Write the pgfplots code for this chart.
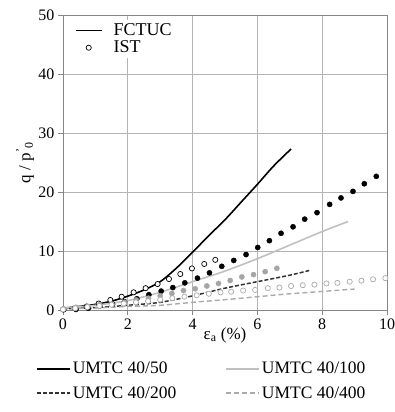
\documentclass[border=0pt]{standalone}
\usepackage{pgfplots}
\pgfplotsset{compat=1.18}
\usepackage{fontspec}
\setmainfont{Liberation Serif}
\definecolor{gridc}{RGB}{180,180,180}
\definecolor{axisc}{RGB}{134,134,134}
\definecolor{lightc}{RGB}{192,192,192}
\definecolor{darkc}{RGB}{50,50,50}
\definecolor{grayc}{RGB}{170,170,170}
\definecolor{dotc}{RGB}{165,165,165}
\begin{document}
\begin{tikzpicture}
\useasboundingbox (-63bp,-102bp) rectangle (332bp,310bp);
\begin{axis}[
  at={(0,0)}, anchor=south west, scale only axis,
  width=324bp, height=295bp,
  xmin=0, xmax=10, ymin=0, ymax=50,
  xtick={0,2,...,10}, ytick={0,10,...,50},
  grid=major, major grid style={gridc, line width=0.9bp},
  axis line style={axisc, line width=0.9bp},
  tick style={axisc, line width=0.9bp},
  tick align=outside, major tick length=5bp,
  xtick pos=left, ytick pos=left,
  ticklabel style={font=\fontsize{16bp}{19bp}\selectfont},
  /pgf/number format/assume math mode=true,
  xlabel={ε\textsubscript{a} (\%)},
  ylabel={q / p\textsuperscript{'}\textsubscript{0}},
  label style={font=\fontsize{17bp}{20bp}\selectfont},
  xlabel style={at={(axis description cs:0.5,-0.085)}, anchor=center},
  ylabel style={at={(axis description cs:-0.117,0.5)}, anchor=center},
  legend columns=2,
  legend style={at={(axis description cs:-0.0926,-0.163)}, anchor=north west,
    draw=none, fill=none, font=\fontsize{17.5bp}{20bp}\selectfont,
    cells={anchor=west}, row sep=7bp,
    /tikz/every even column/.append style={column sep=47bp}},
  legend image code/.code={\draw[#1] (0bp,0bp) -- (33bp,0bp);},
]
% IST markers
\addplot[only marks, mark=*, mark size=2.6bp, color=black, forget plot] coordinates {
(0.02,0.05)(0.40,0.1)(0.78,0.3)(1.13,0.7)(1.53,1.0)(1.90,1.4)(2.28,1.9)(2.65,2.6)(3.03,3.2)(3.39,3.8)(3.76,4.6)(4.15,5.4)(4.52,6.3)(4.90,7.4)(5.27,8.4)(5.65,9.4)(6.01,10.6)(6.37,11.75)(6.73,13.0)(7.10,14.1)(7.46,15.4)(7.84,16.5)(8.23,17.9)(8.58,19.0)(8.95,20.1)(9.30,21.4)(9.67,22.65)};
\addplot[only marks, mark=*, mark size=2.6bp, draw=black, fill=white, mark options={line width=0.7bp}, forget plot] coordinates {
(0,0.1)(0.37,0.3)(0.73,0.6)(1.10,1.1)(1.46,1.7)(1.81,2.25)(2.18,3.0)(2.55,3.7)(2.92,4.4)(3.27,5.25)(3.62,6.1)(3.98,7.05)(4.36,7.8)(4.70,8.5)};
\addplot[only marks, mark=*, mark size=2.6bp, color=dotc, forget plot] coordinates {
(0.02,0.2)(0.40,0.45)(0.77,0.6)(1.13,0.9)(1.51,1.0)(1.90,1.3)(2.26,1.7)(2.64,2.0)(3.00,2.4)(3.36,2.8)(3.72,3.3)(4.08,3.6)(4.44,4.07)(4.80,4.5)(5.16,5.0)(5.52,5.6)(5.88,6.0)(6.24,6.5)(6.60,7.06)};
\addplot[only marks, mark=*, mark size=2.6bp, draw=grayc, fill=white, mark options={line width=0.7bp}, forget plot] coordinates {
(0,0.1)(0.375,0.3)(0.75,0.5)(1.125,0.7)(1.5,0.9)(1.875,1.1)(2.25,1.3)(2.625,1.5)(3.0,1.75)(3.375,2.0)(3.75,2.25)(4.125,2.5)(4.5,2.75)(4.86,3.0)(5.19,3.1)(5.56,3.3)(5.93,3.4)(6.32,3.7)(6.68,3.8)(7.04,4.07)(7.40,4.2)(7.76,4.3)(8.13,4.5)(8.47,4.6)(8.85,4.8)(9.21,4.97)(9.57,5.2)(9.95,5.4)};
% FCTUC lines
\addplot[black, line width=1.6bp, smooth] coordinates {
(0,0.3)(0.5,0.6)(1,0.95)(1.5,1.5)(2,2.35)(2.5,3.4)(3,4.8)(3.5,7.1)(4,9.8)(4.5,12.6)(5,15.3)(5.5,18.3)(6,21.3)(6.5,24.4)(7.04,27.3)};
\addlegendentry{UMTC 40/50}
\addplot[lightc, line width=1.6bp, smooth] coordinates {
(0,0.3)(1,0.8)(2,1.6)(3,3.0)(4,4.8)(5,6.6)(6,8.7)(7,11.0)(8,13.3)(8.8,15.0)};
\addlegendentry{UMTC 40/100}
\addplot[darkc, line width=1.5bp, dash pattern=on 4bp off 2bp, smooth] coordinates {
(0,0.2)(1,0.4)(2,0.8)(3,1.3)(4,2.4)(5,3.7)(6,4.8)(7,5.9)(7.6,6.7)};
\addlegendentry{UMTC 40/200}
\addplot[grayc, line width=1.4bp, dash pattern=on 5bp off 3bp, smooth] coordinates {
(0,0.2)(1,0.35)(2,0.6)(3,0.8)(4,1.3)(5,1.75)(6,2.25)(7,2.75)(8,3.15)(9,3.55)};
\addlegendentry{UMTC 40/400}
\end{axis}
\begin{axis}[
  at={(0,0)}, anchor=south west, scale only axis,
  width=324bp, height=295bp,
  xmin=0, xmax=10, ymin=0, ymax=50, hide axis,
  legend style={at={(axis description cs:0.03,0.985)}, anchor=north west,
    draw=none, fill=white, font=\fontsize{18bp}{20bp}\selectfont,
    cells={anchor=west}, row sep=0bp, inner sep=2bp,
    /tikz/every odd column/.append style={column sep=9bp}},
  legend image code/.code={\draw[mark repeat=2,mark phase=2,#1] plot coordinates {(0bp,0bp) (13bp,0bp) (26bp,0bp)};},
]
\addlegendimage{black, line width=1.6bp}
\addlegendentry{FCTUC}
\addlegendimage{only marks, mark=*, mark size=2.6bp, mark options={draw=black, fill=white, line width=0.7bp}}
\addlegendentry{IST}
\end{axis}
\end{tikzpicture}
\end{document}
